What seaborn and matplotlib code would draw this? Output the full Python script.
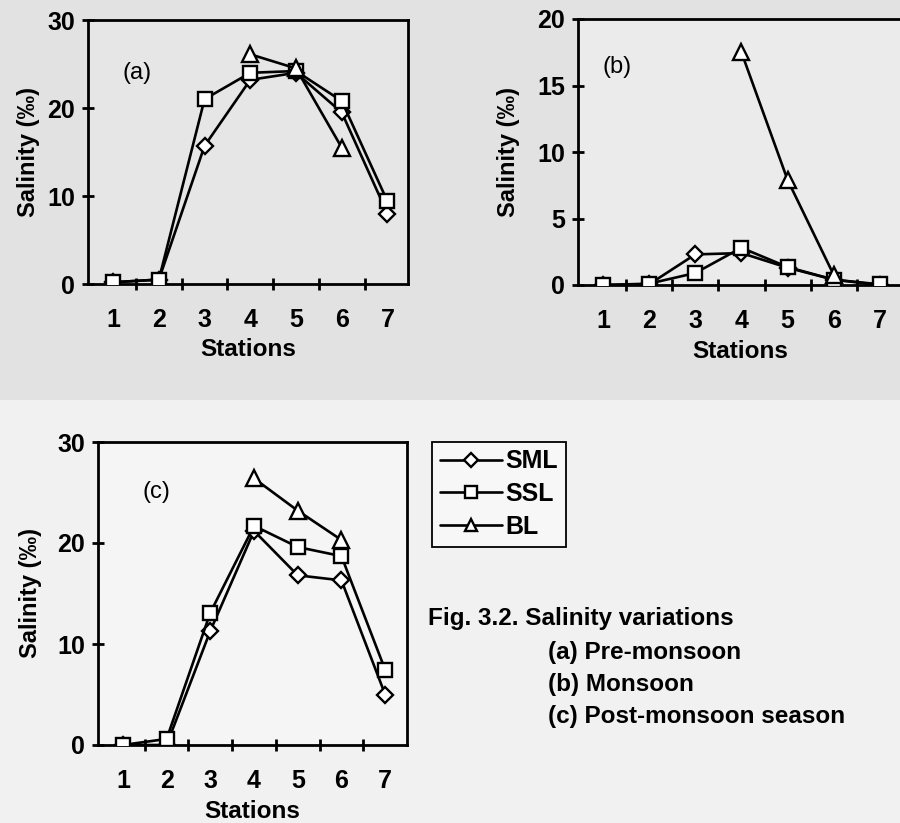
import numpy as np
import pandas as pd
import matplotlib
matplotlib.use("Agg")
import matplotlib.pyplot as plt
from matplotlib.lines import Line2D
from matplotlib.patches import Rectangle
from matplotlib.ticker import FixedLocator
import seaborn as sns

# ---------------- data ----------------
stations = [1, 2, 3, 4, 5, 6, 7]
series_names = ["SML", "SSL", "BL"]

# (a) Pre-monsoon
pre_sml = [0.2, 0.5, 15.7, 23.2, 24.0, 19.5, 8.0]
pre_ssl = [0.2, 0.5, 21.0, 24.0, 24.2, 20.8, 9.4]
pre_bl = [np.nan, np.nan, np.nan, 26.1, 24.5, 15.5, np.nan]

# (b) Monsoon
mon_sml = [0.0, 0.05, 2.3, 2.4, 1.3, 0.4, 0.0]
mon_ssl = [0.0, 0.1, 0.9, 2.8, 1.35, 0.4, 0.05]
mon_bl = [np.nan, np.nan, np.nan, 17.5, 7.9, 0.75, np.nan]

# (c) Post-monsoon
post_sml = [0.0, 0.0, 11.3, 21.2, 16.8, 16.3, 5.0]
post_ssl = [0.0, 0.6, 13.1, 21.7, 19.6, 18.7, 7.45]
post_bl = [np.nan, np.nan, np.nan, 26.4, 23.2, 20.3, np.nan]

panel_labels = ["(a)", "(b)", "(c)"]
x_label = "Stations"
y_label = "Salinity (‰)"
legend_labels = ["SML", "SSL", "BL"]
caption_title = "Fig. 3.2. Salinity variations"
caption_lines = ["(a) Pre-monsoon", "(b) Monsoon", "(c) Post-monsoon season"]

# ---------------- style ----------------
sns.set_theme(style="white")
plt.rcParams["font.family"] = ["Liberation Sans", "DejaVu Sans"]
plt.rcParams["font.weight"] = "bold"
plt.rcParams["text.color"] = "black"
plt.rcParams["axes.labelcolor"] = "black"
plt.rcParams["xtick.color"] = "black"
plt.rcParams["ytick.color"] = "black"

markers = {"SML": "D", "SSL": "s", "BL": "^"}
msizes = {"SML": 8.5, "SSL": 10.5, "BL": 11}

fig = plt.figure(figsize=(9, 8.23), dpi=100, facecolor="#f1f1f1")
# scanned-page tone: darker upper band
fig.patches.append(Rectangle((0, 1 - 400 / 823), 1, 400 / 823, transform=fig.transFigure,
                             facecolor="#e2e2e2", edgecolor="none", zorder=-10))


def make_df(sml, ssl, bl):
    frames = []
    for name, vals in zip(series_names, [sml, ssl, bl]):
        frames.append(pd.DataFrame({"Station": stations, "Salinity": vals, "Layer": name}))
    df = pd.concat(frames, ignore_index=True)
    return df.dropna()


def draw_panel(ax, df, ylim, yticks, xlim, label, label_pos, facecolor):
    ax.set_facecolor(facecolor)
    for name in series_names:
        sub = df[df["Layer"] == name]
        sns.lineplot(data=sub, x="Station", y="Salinity", ax=ax, color="black",
                     marker=markers[name], markersize=msizes[name],
                     markerfacecolor="white", markeredgecolor="black",
                     markeredgewidth=1.7, linewidth=1.9, legend=False,
                     estimator=None, sort=False, zorder=3)
    ax.set_xlim(*xlim)
    ax.set_ylim(*ylim)
    ax.set_yticks(yticks)
    ax.set_yticklabels([str(t) for t in yticks])
    ax.set_xticks(stations)
    ax.set_xticklabels([str(s) for s in stations])
    ax.xaxis.set_minor_locator(FixedLocator([s + 0.5 for s in stations[:-1]]))
    ax.tick_params(axis="x", which="major", length=0, pad=17, labelsize=18)
    ax.tick_params(axis="x", which="minor", bottom=True, direction="inout", length=9, width=2,
                   color="black")
    ax.tick_params(axis="y", which="major", left=True, direction="inout", length=9, width=2,
                   color="black", pad=5, labelsize=18)
    for lab in ax.get_xticklabels() + ax.get_yticklabels():
        lab.set_fontweight("bold")
    for sp in ax.spines.values():
        sp.set_color("black")
        sp.set_linewidth(2)
    ax.set_xlabel(x_label, fontsize=17.5, fontweight="bold")
    ax.set_ylabel(y_label, fontsize=17, fontweight="bold")
    ax.text(label_pos[0], label_pos[1], label, transform=ax.transAxes, fontsize=17,
            fontweight="normal", ha="center", va="center")
    ax.grid(False)


ax_a = fig.add_axes([88 / 900, 1 - 284 / 823, 320 / 900, 264 / 823])
ax_b = fig.add_axes([578 / 900, 1 - 285 / 823, 325 / 900, 266 / 823])
ax_c = fig.add_axes([98 / 900, 1 - 745 / 823, 309 / 900, 303 / 823])

draw_panel(ax_a, make_df(pre_sml, pre_ssl, pre_bl), (0, 30), [0, 10, 20, 30], (0.45, 7.45),
           panel_labels[0], (0.153, 0.80), "#e6e6e6")
draw_panel(ax_b, make_df(mon_sml, mon_ssl, mon_bl), (0, 20), [0, 5, 10, 15, 20], (0.46, 7.5),
           panel_labels[1], (0.12, 0.82), "#ebebeb")
draw_panel(ax_c, make_df(post_sml, post_ssl, post_bl), (0, 30), [0, 10, 20, 30], (0.43, 7.5),
           panel_labels[2], (0.19, 0.835), "#f5f5f5")

ax_a.yaxis.set_label_coords(-0.15, 0.5)
ax_a.xaxis.set_label_coords(0.5, -0.205)
ax_b.yaxis.set_label_coords(-0.18, 0.5)
ax_b.xaxis.set_label_coords(0.5, -0.205)
ax_c.yaxis.set_label_coords(-0.18, 0.5)
ax_c.xaxis.set_label_coords(0.5, -0.18)

# legend
handles = [Line2D([0], [0], color="black", linewidth=1.9, marker=markers[n], markersize=msizes[n] * 0.85,
                  markerfacecolor="white", markeredgecolor="black", markeredgewidth=1.7)
           for n in series_names]
leg = fig.legend(handles, legend_labels, loc="upper left", bbox_to_anchor=(432 / 900, 1 - 442 / 823),
                 frameon=True, fancybox=False, edgecolor="black", facecolor="#f7f7f7",
                 handlelength=2.5, handletextpad=0.15, labelspacing=0.35,
                 borderpad=0.3, borderaxespad=0.0, prop={"weight": "bold", "size": 18})
leg.get_frame().set_linewidth(1.3)
leg.get_frame().set_alpha(1)

# caption
fig.text(428 / 900, 1 - 618 / 823, caption_title, fontsize=17.5, fontweight="bold", ha="left", va="center")
for i, line in enumerate(caption_lines):
    fig.text(548 / 900, 1 - (652 + 32 * i) / 823, line, fontsize=17.5, fontweight="bold",
             ha="left", va="center")

fig.savefig("out.png", dpi=100, facecolor=fig.get_facecolor())
